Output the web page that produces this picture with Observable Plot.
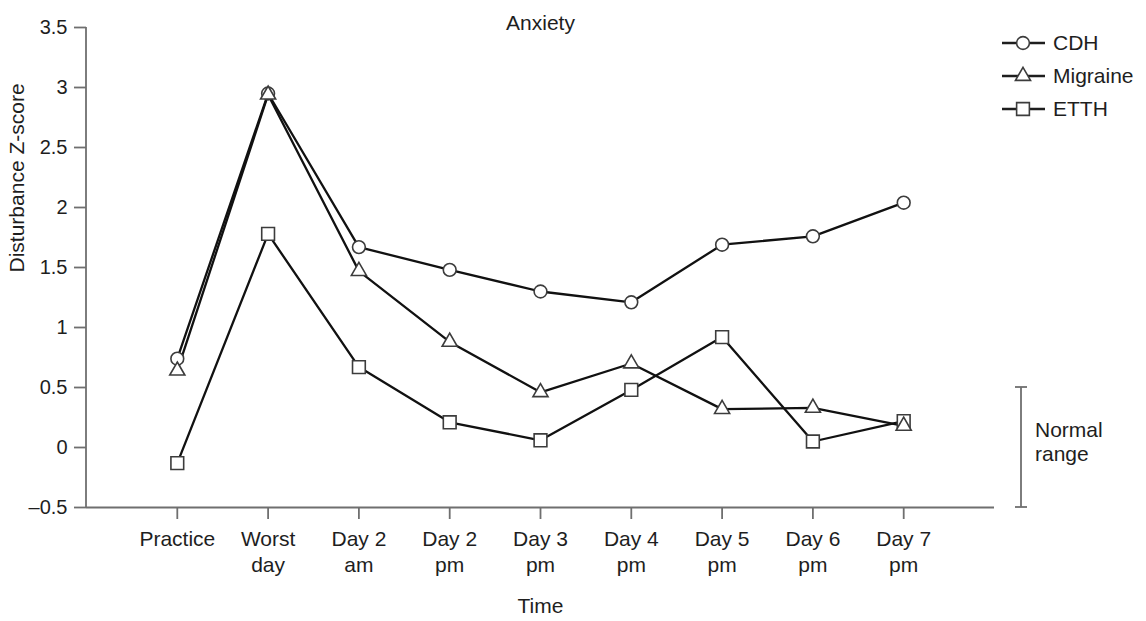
<!DOCTYPE html>
<html>
<head>
<meta charset="utf-8">
<script src="https://cdn.jsdelivr.net/npm/d3@7"></script>
<script src="https://cdn.jsdelivr.net/npm/@observablehq/plot@0.6"></script>
<style>
  html, body { margin: 0; padding: 0; background: #fff; }
  #chart svg { display: block; }
</style>
</head>
<body>
<div id="chart"></div>
<script>
// Time points (two-line labels)
const timeLabels = [
  "Practice", "Worst\nday", "Day 2\nam", "Day 2\npm", "Day 3\npm",
  "Day 4\npm", "Day 5\npm", "Day 6\npm", "Day 7\npm"
];

// Anxiety disturbance Z-scores per headache group
const seriesNames = ["CDH", "Migraine", "ETTH"];
const cdh      = [0.74, 2.95, 1.67, 1.48, 1.30, 1.21, 1.69, 1.76, 2.04];
const migraine = [0.64, 2.94, 1.47, 0.88, 0.46, 0.70, 0.32, 0.33, 0.18];
const etth     = [-0.13, 1.78, 0.67, 0.21, 0.06, 0.48, 0.92, 0.05, 0.22];

// Y axis ticks and their labels
const yTicks = [-0.5, 0, 0.5, 1, 1.5, 2, 2.5, 3, 3.5];
const yTickLabels = ["\u20130.5", "0", "0.5", "1", "1.5", "2", "2.5", "3", "3.5"];

// Normal range band (in Z-score units)
const normalRange = [-0.5, 0.5];

// Long-format table
const valuesBySeries = {CDH: cdh, Migraine: migraine, ETTH: etth};
const rows = seriesNames.flatMap(s =>
  valuesBySeries[s].map((v, i) => ({series: s, time: timeLabels[i], value: v}))
);

const symbols = {CDH: "circle", Migraine: "triangle", ETTH: "square"};
const radii = {CDH: 6.4, Migraine: 5.6, ETTH: 7.2};

const FONT = "'Liberation Sans', Arial, Helvetica, sans-serif";
const AXIS = "#6f6f6f";
const INK = "#1e1e1e";
const MARKER = "#3c3c3c";

function markersFor(name) {
  return Plot.dot(rows.filter(d => d.series === name), {
    x: "time", y: "value",
    symbol: symbols[name], r: radii[name],
    fill: "white", stroke: MARKER, strokeWidth: 1.6
  });
}

// Y axis line, normal-range bracket and legend
function decorations(index, scales, values, dims) {
  const y = scales.y;
  const g = d3.create("svg:g")
    .attr("font-family", FONT).attr("font-size", 21)
    .attr("fill", INK).attr("text-anchor", "start");

  // vertical axis line
  g.append("line")
    .attr("x1", dims.marginLeft).attr("x2", dims.marginLeft)
    .attr("y1", y(yTicks[yTicks.length - 1])).attr("y2", y(yTicks[0]))
    .attr("stroke", AXIS).attr("stroke-width", 1.8);

  // bracket for the normal range
  const bx = dims.width - dims.marginRight + 27;
  const yTop = y(normalRange[1]), yBot = y(normalRange[0]);
  const br = g.append("g").attr("stroke", AXIS).attr("stroke-width", 1.8);
  br.append("line").attr("x1", bx).attr("x2", bx).attr("y1", yTop).attr("y2", yBot);
  br.append("line").attr("x1", bx - 6).attr("x2", bx + 6).attr("y1", yTop).attr("y2", yTop);
  br.append("line").attr("x1", bx - 6).attr("x2", bx + 6).attr("y1", yBot).attr("y2", yBot);
  const mid = y(0);
  g.append("text").attr("x", bx + 14).attr("y", mid - 10).text("Normal");
  g.append("text").attr("x", bx + 14).attr("y", mid + 14).text("range");

  // legend
  const lx = dims.width - dims.marginRight + 8;
  seriesNames.forEach((name, i) => {
    const ly = 43 + i * 33;
    const item = g.append("g").attr("transform", `translate(${lx},${ly})`);
    item.append("line").attr("x1", 0).attr("x2", 43).attr("y1", 0).attr("y2", 0)
      .attr("stroke", INK).attr("stroke-width", 2.3);
    const sym = {circle: d3.symbolCircle, triangle: d3.symbolTriangle, square: d3.symbolSquare}[symbols[name]];
    const r = radii[name];
    item.append("path")
      .attr("transform", "translate(21,0)")
      .attr("d", d3.symbol(sym, Math.PI * r * r)())
      .attr("fill", "white").attr("stroke", MARKER).attr("stroke-width", 1.6);
    item.append("text").attr("x", 51).attr("y", 0).attr("dy", "0.35em").text(name);
  });
  return g.node();
}

const chart = Plot.plot({
  width: 1146,
  height: 621,
  marginLeft: 86,
  marginRight: 152,
  marginTop: 27,
  marginBottom: 114,
  style: {fontFamily: FONT, fontSize: "21px", color: INK, background: "white", overflow: "visible"},
  x: {type: "point", domain: timeLabels, padding: 1, round: false},
  y: {domain: [yTicks[0], yTicks[yTicks.length - 1]]},
  marks: [
    Plot.axisY({
      ticks: yTicks, tickFormat: d => yTickLabels[yTicks.indexOf(d)],
      tickSize: 12, tickPadding: 7, stroke: AXIS, strokeWidth: 1.8,
      fill: INK, fontSize: 20, label: null
    }),
    Plot.axisX({
      tickFormat: d => d, tickSize: 12, tickPadding: 8,
      stroke: AXIS, strokeWidth: 1.8, fill: INK, fontSize: 21,
      lineHeight: 1.24, label: null
    }),
    Plot.ruleY([yTicks[0]], {stroke: AXIS, strokeWidth: 1.8}),
    Plot.line(rows, {x: "time", y: "value", z: "series", stroke: "#111", strokeWidth: 2.3}),
    markersFor("CDH"),
    markersFor("ETTH"),
    markersFor("Migraine"),
    Plot.text(["Anxiety"], {text: d => d, frameAnchor: "top", lineAnchor: "bottom", dy: 2, fontSize: 21, fill: INK}),
    Plot.text(["Time"], {text: d => d, frameAnchor: "bottom", lineAnchor: "bottom", dy: 105, fontSize: 21, fill: INK}),
    Plot.text(["Disturbance Z-score"], {
      text: d => d, frameAnchor: "left", rotate: -90, lineAnchor: "middle",
      dx: -69, dy: 5, fontSize: 21, fill: INK
    }),
    decorations
  ]
});

document.getElementById("chart").appendChild(chart);
</script>
</body>
</html>
